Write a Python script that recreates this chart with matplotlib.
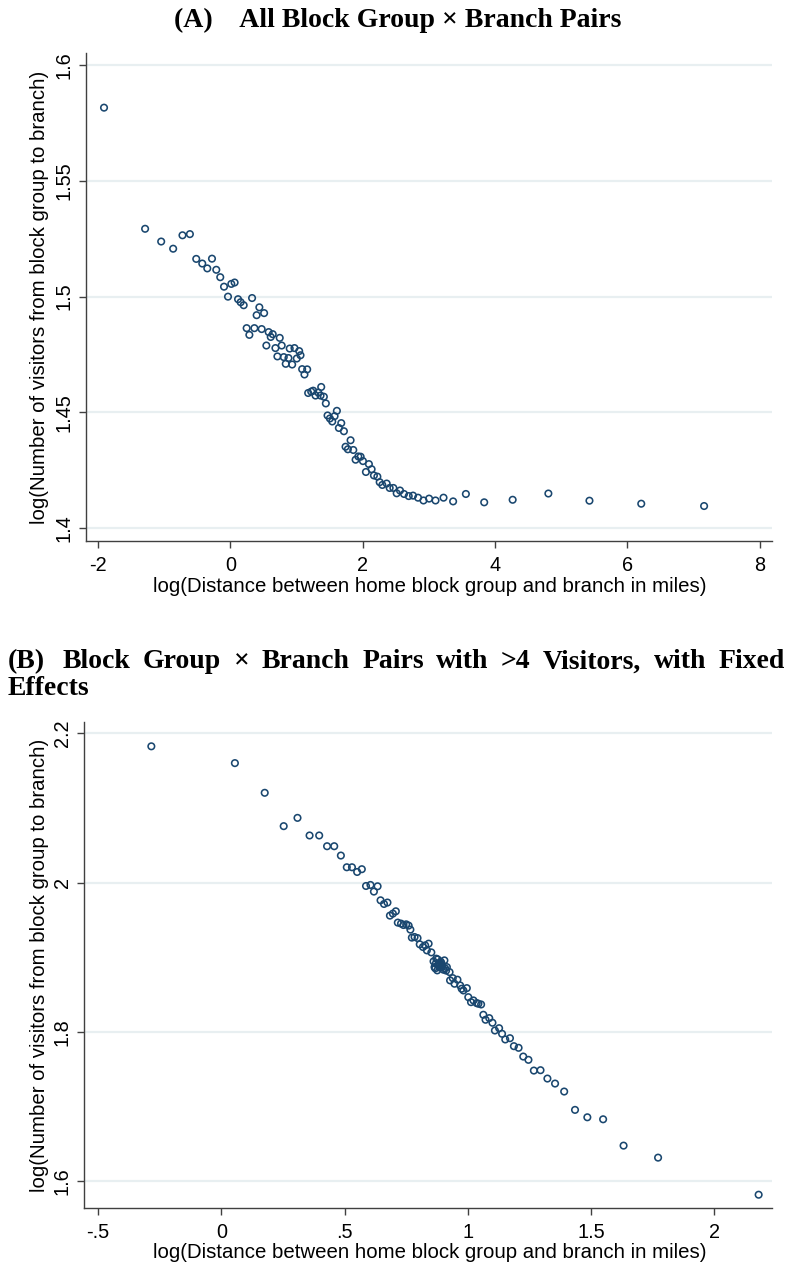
import matplotlib
matplotlib.use("Agg")
import matplotlib.pyplot as plt

W, H, DPI = 793, 1268, 100

# ---------------- data ----------------
a_x = [-1.909, -1.288, -1.045, -0.864, -0.723, -0.611, -0.515, -0.424, -0.348, -0.277,
       -0.212, -0.152, -0.095, -0.035, 0.015, 0.065, 0.117, 0.156, 0.202, 0.247,
       0.288, 0.329, 0.364, 0.398, 0.439, 0.474, 0.511, 0.545, 0.580, 0.611,
       0.641, 0.682, 0.712, 0.747, 0.777, 0.808, 0.838, 0.879, 0.898, 0.935,
       0.970, 1.005, 1.041, 1.061, 1.086, 1.121, 1.162, 1.177, 1.223, 1.253,
       1.288, 1.329, 1.364, 1.374, 1.414, 1.444, 1.470, 1.505, 1.541, 1.576,
       1.611, 1.641, 1.677, 1.717, 1.742, 1.777, 1.818, 1.859, 1.894, 1.935,
       1.970, 2.005, 2.050, 2.095, 2.136, 2.171, 2.223, 2.258, 2.298, 2.364,
       2.409, 2.465, 2.515, 2.565, 2.626, 2.697, 2.762, 2.838, 2.920, 3.005,
       3.102, 3.223, 3.368, 3.561, 3.838, 4.268, 4.808, 5.429, 6.212, 7.162]
a_y = [1.5816, 1.5293, 1.5238, 1.5207, 1.5265, 1.5270, 1.5163, 1.5143, 1.5122, 1.5164,
       1.5116, 1.5084, 1.5043, 1.5000, 1.5055, 1.5061, 1.4989, 1.4976, 1.4963, 1.4864,
       1.4835, 1.4994, 1.4864, 1.4920, 1.4954, 1.4860, 1.4929, 1.4789, 1.4847, 1.4826,
       1.4838, 1.4778, 1.4742, 1.4822, 1.4789, 1.4739, 1.4710, 1.4735, 1.4776, 1.4707,
       1.4778, 1.4733, 1.4765, 1.4747, 1.4687, 1.4664, 1.4686, 1.4584, 1.4590, 1.4594,
       1.4573, 1.4586, 1.4573, 1.4610, 1.4568, 1.4539, 1.4487, 1.4474, 1.4461, 1.4484,
       1.4507, 1.4433, 1.4454, 1.4419, 1.4352, 1.4341, 1.4380, 1.4338, 1.4296, 1.4310,
       1.4309, 1.4290, 1.4243, 1.4277, 1.4255, 1.4228, 1.4223, 1.4199, 1.4187, 1.4193,
       1.4174, 1.4174, 1.4151, 1.4163, 1.4148, 1.4139, 1.4141, 1.4132, 1.4120, 1.4128,
       1.4120, 1.4132, 1.4116, 1.4148, 1.4112, 1.4123, 1.4150, 1.4119, 1.4106, 1.4096]

b_x = [-0.284, 0.055, 0.176, 0.253, 0.309, 0.358, 0.397, 0.429, 0.458, 0.485,
       0.509, 0.530, 0.551, 0.570, 0.587, 0.605, 0.619, 0.634, 0.646, 0.660,
       0.674, 0.684, 0.696, 0.708, 0.716, 0.729, 0.739, 0.750, 0.760, 0.767,
       0.773, 0.784, 0.796, 0.805, 0.818, 0.827, 0.841, 0.834, 0.852, 0.861,
       0.872, 0.885, 0.894, 0.905, 0.876, 0.865, 0.915, 0.926, 0.870, 0.888,
       0.901, 0.878, 0.880, 0.890, 0.896, 0.908, 0.912, 0.868, 0.893, 0.883,
       0.928, 0.939, 0.958, 0.946, 0.969, 0.982, 0.996, 0.975, 1.002, 1.013,
       1.023, 1.036, 1.054, 1.043, 1.063, 1.072, 1.087, 1.100, 1.110, 1.127,
       1.139, 1.152, 1.171, 1.187, 1.206, 1.225, 1.246, 1.268, 1.295, 1.323,
       1.354, 1.391, 1.435, 1.485, 1.549, 1.632, 1.772, 2.180]
b_y = [2.1826, 2.1601, 2.1203, 2.0756, 2.0867, 2.0631, 2.0631, 2.0487, 2.0487, 2.0362,
       2.0205, 2.0205, 2.0142, 2.0179, 1.9954, 1.9968, 1.9879, 1.9950, 1.9762, 1.9713,
       1.9732, 1.9557, 1.9584, 1.9615, 1.9463, 1.9450, 1.9431, 1.9440, 1.9423, 1.9369,
       1.9262, 1.9270, 1.9256, 1.9172, 1.9136, 1.9158, 1.9181, 1.9091, 1.9064, 1.8944,
       1.8980, 1.8921, 1.8890, 1.8957, 1.8823, 1.8867, 1.8867, 1.8800, 1.8913, 1.8859,
       1.8832, 1.8970, 1.8900, 1.8940, 1.8870, 1.8850, 1.8820, 1.8850, 1.8920, 1.8880,
       1.8689, 1.8719, 1.8698, 1.8644, 1.8621, 1.8554, 1.8585, 1.8577, 1.8464, 1.8397,
       1.8420, 1.8384, 1.8366, 1.8376, 1.8228, 1.8161, 1.8183, 1.8121, 1.8017, 1.8048,
       1.7973, 1.7897, 1.7914, 1.7807, 1.7785, 1.7668, 1.7624, 1.7480, 1.7485, 1.7373,
       1.7306, 1.7199, 1.6953, 1.6854, 1.6827, 1.6474, 1.6313, 1.5816]

a_xticks = [-2, 0, 2, 4, 6, 8]
a_xticklabels = ["-2", "0", "2", "4", "6", "8"]
a_yticks = [1.4, 1.45, 1.5, 1.55, 1.6]
a_yticklabels = ["1.4", "1.45", "1.5", "1.55", "1.6"]
b_xticks = [-0.5, 0, 0.5, 1, 1.5, 2]
b_xticklabels = ["-.5", "0", ".5", "1", "1.5", "2"]
b_yticks = [1.6, 1.8, 2.0, 2.2]
b_yticklabels = ["1.6", "1.8", "2", "2.2"]

title_a = "(A)    All Block Group \u00d7 Branch Pairs"
title_b_line1 = "(B)  Block Group \u00d7 Branch Pairs with >4 Visitors, with Fixed"
title_b_line2 = "Effects"
xlabel = "log(Distance between home block group and branch in miles)"
ylabel = "log(Number of visitors from block group to branch)"

# ---------------- style ----------------
NAVY = "#1a476f"
GRID = "#e8eff1"
AXC = "#404040"
SANS = ["Liberation Sans", "DejaVu Sans"]
SERIF = ["Liberation Serif", "DejaVu Serif"]
TICK_FS = 14.3
LAB_FS = 14.7
TITLE_FS = 20

fig = plt.figure(figsize=(W / DPI, H / DPI), dpi=DPI)
fig.patch.set_facecolor("white")


def px_axes(left, top, right, bottom):
    return fig.add_axes([left / W, 1 - bottom / H, (right - left) / W, (bottom - top) / H])


def style(ax, xt, xtl, yt, ytl, xlim, ylim):
    ax.set_xlim(*xlim)
    ax.set_ylim(*ylim)
    ax.set_xticks(xt)
    ax.set_xticklabels(xtl, family=SANS, fontsize=TICK_FS)
    ax.set_yticks(yt)
    ax.set_yticklabels(ytl, family=SANS, fontsize=TICK_FS, rotation=90, va="center")
    ax.grid(axis="y", color=GRID, lw=1.6)
    ax.grid(axis="x", visible=False)
    ax.set_axisbelow(True)
    for s in ["top", "right"]:
        ax.spines[s].set_visible(False)
    for s in ["left", "bottom"]:
        ax.spines[s].set_color(AXC)
        ax.spines[s].set_linewidth(1.0)
    ax.tick_params(axis="both", direction="out", length=5, width=1.0, color=AXC)
    ax.tick_params(axis="x", pad=6)
    ax.tick_params(axis="y", pad=4)


MS = 22
MLW = 1.15

# Panel A
axA = px_axes(85.7, 53, 771.7, 541)
axA.scatter(a_x, a_y, s=MS, facecolors="none", edgecolors=NAVY, linewidths=MLW, zorder=3)
style(axA, a_xticks, a_xticklabels, a_yticks, a_yticklabels, (-2.186, 8.184), (1.3945, 1.6052))
fig.text(430 / W, 1 - 587 / H, xlabel, family=SANS, fontsize=LAB_FS, ha="center", va="center")
fig.text(40 / W, 1 - 297 / H, ylabel, family=SANS, fontsize=LAB_FS, ha="center", va="center",
         rotation=90)
fig.text(398 / W, 1 - 20 / H, title_a, family=SERIF, fontweight="bold", fontsize=TITLE_FS,
         ha="center", va="center")

# Panel B
axB = px_axes(84.3, 721.7, 771.7, 1208)
axB.scatter(b_x, b_y, s=MS, facecolors="none", edgecolors=NAVY, linewidths=MLW, zorder=3)
style(axB, b_xticks, b_xticklabels, b_yticks, b_yticklabels, (-0.556, 2.233), (1.5638, 2.2156))
fig.text(430 / W, 1 - 1252 / H, xlabel, family=SANS, fontsize=LAB_FS, ha="center", va="center")
fig.text(40 / W, 1 - 965 / H, ylabel, family=SANS, fontsize=LAB_FS, ha="center", va="center",
         rotation=90)

# Panel B title: justified first line
fig.canvas.draw()
renderer = fig.canvas.get_renderer()
words = title_b_line1.split()
y1 = 1 - 662 / H
objs = [fig.text(0, y1, w, family=SERIF, fontweight="bold", fontsize=TITLE_FS,
                 ha="left", va="center") for w in words]
widths = [o.get_window_extent(renderer).width for o in objs]
left_px, right_px = 8, 785
weights = [1.4] + [1.0] * (len(words) - 2)
unit = ((right_px - left_px) - sum(widths)) / sum(weights)
xpos = left_px
for i, o in enumerate(objs):
    o.set_x(xpos / W)
    if i < len(weights):
        xpos += widths[i] + unit * weights[i]
fig.text(left_px / W, 1 - 689 / H, title_b_line2, family=SERIF, fontweight="bold",
         fontsize=TITLE_FS, ha="left", va="center")

fig.savefig("out.png", dpi=DPI, facecolor="white")
